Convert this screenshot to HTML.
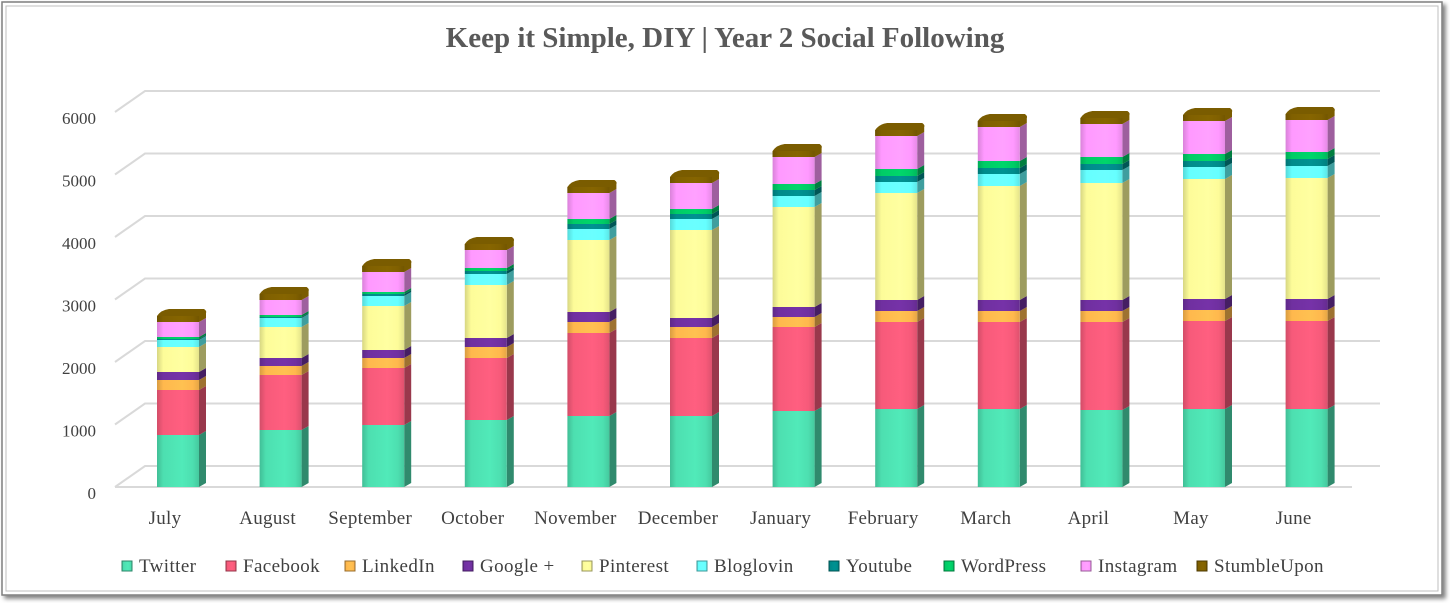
<!DOCTYPE html>
<html><head><meta charset="utf-8"><style>
html,body{margin:0;padding:0;background:#fff;}
svg{display:block;font-family:"Liberation Serif",serif;}
</style></head><body>
<svg id="s" width="1450" height="603" xmlns="http://www.w3.org/2000/svg">
<defs>
<filter id="sh" x="-5%" y="-5%" width="110%" height="110%"><feDropShadow dx="3" dy="3" stdDeviation="2" flood-color="#000" flood-opacity="0.5"/></filter>
</defs>
<rect x="2" y="2" width="1440" height="593" fill="#fff" stroke="#7f7f7f" stroke-width="1.5" filter="url(#sh)"/>
<rect x="6" y="6" width="1432" height="585" fill="none" stroke="#bfbfbf" stroke-width="1"/>
<text x="725" y="47" text-anchor="middle" font-size="29" font-weight="bold" fill="#595959">Keep it Simple, DIY | Year 2 Social Following</text>
<g id="grid" stroke="#d9d9d9" stroke-width="2" fill="none"></g>
<g id="ylab" font-size="17" fill="#404040" text-anchor="end"></g>
<g id="bars"></g>
<g id="xlab" font-size="19" fill="#404040" text-anchor="middle" letter-spacing="0.3"></g>
<g id="leg" font-size="19" fill="#404040" letter-spacing="0.4"></g>
</svg>
<script>
const NS="http://www.w3.org/2000/svg";
function el(p,t,a,txt){const e=document.createElementNS(NS,t);for(const k in a)e.setAttribute(k,a[k]);if(txt!==undefined)e.textContent=txt;document.getElementById(p)?document.getElementById(p).appendChild(e):p.appendChild(e);return e;}
const defs=document.querySelector('defs');
const cols=["#4ddfb0","#f75a7a","#ffb84d","#7030a0","#fdfc99","#66ffff","#008b8b","#00cc66","#ff99ff","#806000"];
function shade(h,f){let n=parseInt(h.slice(1),16);let r=n>>16,g=(n>>8)&255,b=n&255;r=Math.round(r*f);g=Math.round(g*f);b=Math.round(b*f);return `rgb(${Math.min(r,255)},${Math.min(g,255)},${Math.min(b,255)})`;}
cols.forEach((c,i)=>{const g=el(defs,'linearGradient',{id:'g'+i,x1:0,y1:0,x2:1,y2:0});
[[0,0.85],[0.15,1],[0.6,1.05],[0.85,1],[1,0.9]].forEach(([o,f])=>el(g,'stop',{offset:o,'stop-color':shade(c,f)}));});
for(let k=0;k<=6;k++){const yb=466-k*62.5,yf=yb+21;
el('grid','path',{d:`M115 ${yf} L145 ${yb} L1380 ${yb}`});
el('ylab','text',{x:96,y:yf+12},String(k*1000));}
el('grid','path',{d:'M115 487 L1352 487'});
const months=["July","August","September","October","November","December","January","February","March","April","May","June"];
const tops=[
[435,390,380,372,347,340,339,337,322],
[430,375,366,358,327,318,317,315,300],
[425,368,358,350,306,296,294,292,272],
[420,358,347,338,285,274,271,268,250],
[416,333,322,312,240,229,224,219,193],
[416,338,327,318,230,219,214,209,183],
[411,327,317,307,207,196,190,184,157],
[409,322,311,300,193,182,176,169,136],
[409,322,311,300,186,174,168,161,127],
[410,322,311,300,183,170,164,157,124],
[409,321,310,299,179,167,161,154,121],
[409,321,310,299,178,166,159,152,120]];
tops.forEach((t,m)=>{const cx=181+m*102.6,x0=cx-24,w=42,d=7;let prev=487;
t.forEach((y,i)=>{
el('bars','path',{d:`M${x0+w} ${prev} L${x0+w+d} ${prev-4} L${x0+w+d} ${y-4} L${x0+w} ${y} Z`,fill:shade(cols[i],0.62)});
el('bars','rect',{x:x0,y:y,width:w,height:prev-y,fill:`url(#g${i})`});prev=y;});
el('bars','path',{d:`M${x0} ${prev} L${x0} ${prev-6} Q${x0+4} ${prev-12} ${x0+12} ${prev-13} L${x0+w+d-2} ${prev-13} Q${x0+w+d+1} ${prev-11} ${x0+w+d} ${prev-9} L${x0+w+d} ${prev-4} L${x0+w} ${prev} Z`,fill:"#7a5c00"});
el('bars','rect',{x:x0,y:prev-6,width:w,height:6,fill:"url(#g9)"});
el('xlab','text',{x:cx-16,y:524},months[m]);});
const names=["Twitter","Facebook","LinkedIn","Google +","Pinterest","Bloglovin","Youtube","WordPress","Instagram","StumbleUpon"];
const lx=[139,243,362,480,599,714,846,961,1098,1214];
names.forEach((n,i)=>{const x=lx[i];
el('leg','rect',{x:x-17,y:561,width:10,height:10,fill:`url(#g${i})`,stroke:shade(cols[i],0.6),'stroke-width':1});
el('leg','text',{x:x,y:572},n);});
</script>
</body></html>
